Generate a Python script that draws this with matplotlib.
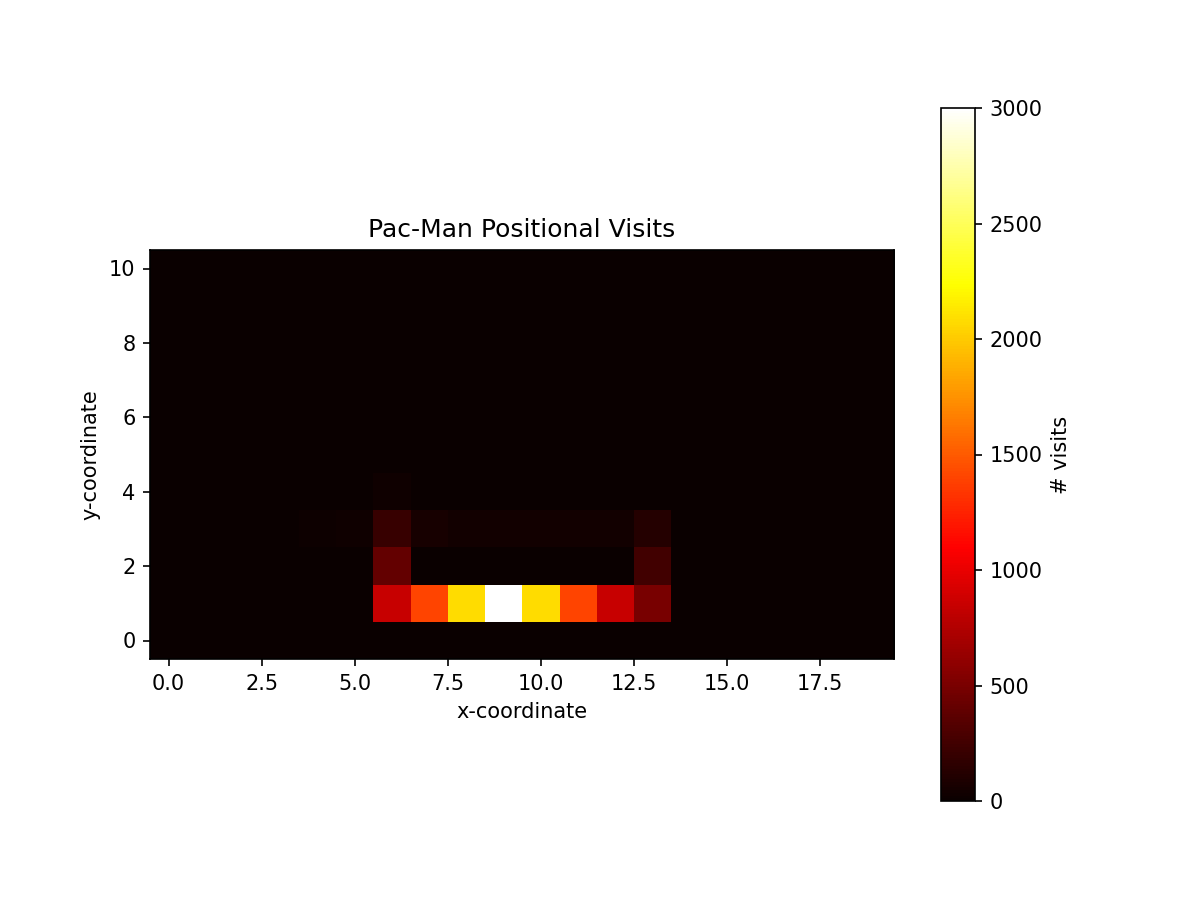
import matplotlib
matplotlib.use('Agg')
import matplotlib.pyplot as plt
import numpy as np

n_rows, n_cols = 11, 20

# (y, x, visits) for non-zero cells
cell_y = [1, 1, 1, 1, 1, 1, 1, 1,
          2, 2,
          3, 3, 3, 3, 3, 3, 3, 3, 3, 3,
          4]
cell_x = [6, 7, 8, 9, 10, 11, 12, 13,
          6, 13,
          4, 5, 6, 7, 8, 9, 10, 11, 12, 13,
          6]
cell_visits = [850, 1400, 2085, 3000, 2085, 1400, 850, 500,
               410, 250,
               15, 30, 205, 70, 46, 46, 46, 46, 46, 125,
               30]

visits = np.zeros((n_rows, n_cols))
for y, x, v in zip(cell_y, cell_x, cell_visits):
    visits[y, x] = v

fig = plt.figure(figsize=(8, 6), dpi=150)
im = plt.imshow(visits, cmap='hot', origin='lower', vmin=0, vmax=3000)
cbar = plt.colorbar(im)
cbar.set_label('# visits')
plt.title('Pac-Man Positional Visits')
plt.xlabel('x-coordinate')
plt.ylabel('y-coordinate')

plt.savefig('out.png')
